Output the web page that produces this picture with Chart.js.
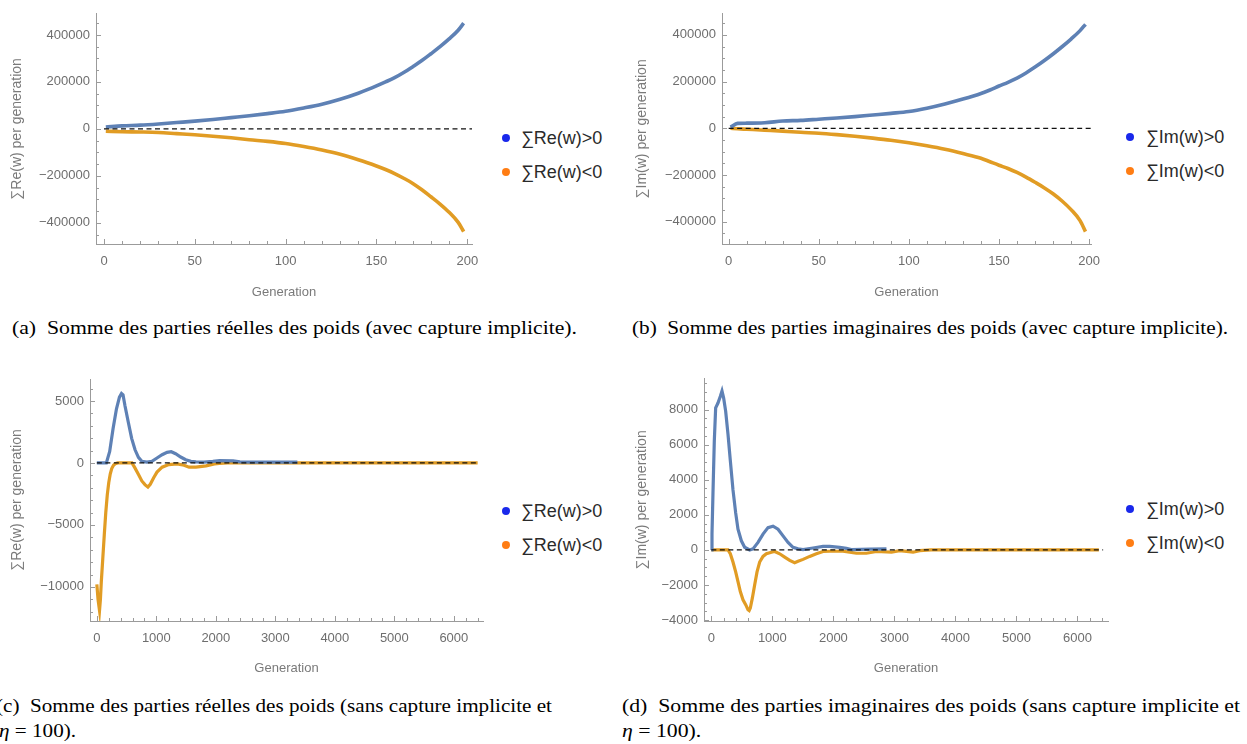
<!DOCTYPE html>
<html>
<head>
<meta charset="utf-8">
<script src="https://cdn.jsdelivr.net/npm/chart.js@4.4.0/dist/chart.umd.min.js"></script>
<style>
  html, body { margin: 0; padding: 0; background: #fff; }
  body { width: 1247px; height: 744px; position: relative; overflow: hidden; }
  .box { position: absolute; }
  .leg { position: absolute; font: 18px "Liberation Sans", Arial, sans-serif; color: #2a2a2a; white-space: nowrap; line-height: 20px; }
  .dot { position: absolute; width: 8px; height: 8px; border-radius: 50%; }
  .cap { position: absolute; font-family: "Liberation Serif", "Times New Roman", serif; font-size: 19px; line-height: 20px; color: #000; white-space: nowrap; transform-origin: 0 50%; }
</style>
</head>
<body>
<script>
// ---------------- DATA ----------------
// (a) real parts, with implicit capture
const genA     = [1, 10, 20, 30, 40, 50, 60, 70, 80, 90, 100, 110, 120, 130, 140, 145, 150, 155, 160, 165, 170, 175, 180, 185, 190, 195, 198];
const reAPos   = [8000, 13000, 16000, 21000, 27000, 33000, 40000, 48000, 56000, 65000, 75000, 89000, 105000, 126000, 152000, 167000, 183000, 200000, 218000, 240000, 265000, 291000, 320000, 350000, 383000, 420000, 450000];
const reANeg   = [-10000, -12000, -13000, -15000, -20000, -25000, -31000, -38000, -46000, -53000, -62000, -75000, -90000, -108000, -131000, -144000, -158000, -173000, -190000, -210000, -232000, -259000, -289000, -320000, -355000, -398000, -437000];
// (b) imaginary parts, with implicit capture
const genB     = [1, 5, 10, 20, 30, 40, 50, 60, 70, 80, 90, 100, 110, 120, 130, 140, 145, 150, 155, 160, 165, 170, 175, 180, 185, 190, 195, 198];
const imBPos   = [5000, 21000, 22000, 24000, 31000, 34000, 39000, 44000, 50000, 57000, 64000, 72000, 86000, 104000, 125000, 149000, 164000, 181000, 197000, 215000, 237000, 262000, 289000, 318000, 349000, 382000, 418000, 445000];
const imBNeg   = [0, -2000, -4000, -8000, -12000, -17000, -21000, -27000, -34000, -42000, -51000, -62000, -75000, -90000, -108000, -128000, -143000, -158000, -172000, -189000, -209000, -231000, -254000, -280000, -311000, -348000, -395000, -442000];
// (c) real parts, without implicit capture, eta = 100
const genCPos  = [0, 100, 160, 216, 273, 330, 380, 415, 440, 472, 528, 585, 642, 699, 756, 841, 926, 1011, 1097, 1180, 1250, 1324, 1409, 1494, 1580, 1665, 1800, 1950, 2063, 2290, 2403, 2600, 3000, 3370];
const reCPos   = [0, 0, 0, 926, 2780, 4365, 5300, 5600, 5500, 4630, 3300, 1984, 1058, 450, 132, 60, 130, 400, 660, 850, 900, 740, 476, 265, 130, 80, 60, 120, 185, 160, 80, 60, 60, 60];
const genCNeg  = [0, 20, 45, 60, 75, 100, 125, 150, 175, 200, 225, 250, 280, 310, 350, 590, 640, 700, 756, 812, 858, 898, 955, 1011, 1097, 1210, 1350, 1466, 1550, 1665, 1835, 1977, 2060, 2200, 6400];
const reCNeg   = [-9800, -11000, -11900, -11000, -9600, -7700, -5800, -4000, -2600, -1600, -900, -450, -180, -60, 0, 0, -400, -930, -1450, -1770, -1950, -1720, -1190, -740, -345, -130, -80, -190, -340, -340, -240, -80, -30, 0, 0];
// (d) imaginary parts, without implicit capture, eta = 100
const genDPos  = [0, 11, 27, 49, 71, 109, 148, 175, 202, 235, 273, 311, 355, 399, 437, 492, 546, 628, 683, 765, 847, 929, 1011, 1093, 1175, 1257, 1339, 1421, 1503, 1667, 1831, 1940, 2104, 2213, 2295, 2600, 2870];
const imDPos   = [0, 900, 3230, 6220, 8090, 8370, 8750, 9050, 8650, 7900, 6600, 5100, 3420, 2110, 1180, 520, 150, 0, 60, 430, 900, 1270, 1350, 1180, 800, 430, 150, 60, 20, 110, 200, 200, 150, 90, 20, 40, 60];
const genDNeg  = [0, 273, 311, 355, 399, 437, 475, 519, 563, 601, 620, 639, 672, 710, 749, 792, 847, 902, 984, 1038, 1120, 1202, 1284, 1366, 1421, 1503, 1612, 1721, 1831, 1940, 2158, 2268, 2377, 2541, 2705, 2951, 3087, 3306, 3415, 3600, 6350];
const imDNeg   = [0, 0, -220, -690, -1250, -1810, -2370, -2840, -3120, -3400, -3450, -3310, -2750, -2000, -1250, -690, -370, -220, -130, -90, -220, -410, -600, -730, -650, -540, -370, -220, -90, -75, -75, -130, -190, -190, -90, -130, -40, -130, -40, 0, 0];

// zero reference (dashed) line extents
const zeroA = [0, 202.6];
const zeroB = [0, 201];
const zeroC = [0, 6420];
const zeroD = [0, 6420];

// tick labels / tick positions
const xTicksAB   = [0, 50, 100, 150, 200];
const xMinorAB   = [10, 20, 30, 40, 60, 70, 80, 90, 110, 120, 130, 140, 160, 170, 180, 190];
const yTicksAB   = [-400000, -200000, 0, 200000, 400000];
const yMinorAB   = [-450000, -350000, -300000, -250000, -150000, -100000, -50000, 50000, 100000, 150000, 250000, 300000, 350000, 450000];
const xTicksCD   = [0, 1000, 2000, 3000, 4000, 5000, 6000];
const xMinorCD   = [200, 400, 600, 800, 1200, 1400, 1600, 1800, 2200, 2400, 2600, 2800, 3200, 3400, 3600, 3800, 4200, 4400, 4600, 4800, 5200, 5400, 5600, 5800, 6200, 6400];
const yTicksC    = [-10000, -5000, 0, 5000];
const yMinorC    = [-12000, -11000, -9000, -8000, -7000, -6000, -4000, -3000, -2000, -1000, 1000, 2000, 3000, 4000, 6000];
const yTicksD    = [-4000, -2000, 0, 2000, 4000, 6000, 8000];
const yMinorD    = [-3500, -3000, -2500, -1500, -1000, -500, 500, 1000, 1500, 2500, 3000, 3500, 4500, 5000, 5500, 6500, 7000, 7500, 8500, 9000, 9500];

const legendRe = ['\u2211Re(w)>0', '\u2211Re(w)<0'];
const legendIm = ['\u2211Im(w)>0', '\u2211Im(w)<0'];
const titleRe  = '\u2211Re(w) per generation';
const titleIm  = '\u2211Im(w) per generation';
const xTitle   = 'Generation';

// ---------------- STYLE ----------------
const BLUE = 'rgb(94,129,181)';
const ORANGE = 'rgb(225,156,36)';
const LEG_BLUE = 'rgb(25,40,235)';
const LEG_ORANGE = 'rgb(255,125,20)';
const AXIS = '#9b9b9b';
const TICK_TXT = '#6e6e6e';
const TITLE_TXT = '#7a7a7a';
const FF = '"Liberation Sans", Arial, sans-serif';

const pts = (xs, ys) => xs.map((x, i) => ({ x: x, y: ys[i] }));
const fmt = v => (v < 0 ? '\u2212' + Math.abs(v) : String(v));

const inTicks = {
  id: 'inTicks',
  afterDatasetsDraw(chart, args, o) {
    const ctx = chart.ctx, xs = chart.scales.x, ys = chart.scales.y, ca = chart.chartArea;
    ctx.save();
    ctx.strokeStyle = AXIS; ctx.lineWidth = 1;
    ctx.beginPath();
    const xt = (vals, len) => vals.forEach(v => { const p = Math.round(xs.getPixelForValue(v)) + 0.5; ctx.moveTo(p, ca.bottom); ctx.lineTo(p, ca.bottom - len); });
    const yt = (vals, len) => vals.forEach(v => { const p = Math.round(ys.getPixelForValue(v)) + 0.5; ctx.moveTo(ca.left, p); ctx.lineTo(ca.left + len, p); });
    xt(o.xMajor, 5); xt(o.xMinor, 3); yt(o.yMajor, 5); yt(o.yMinor, 3);
    ctx.stroke();
    ctx.restore();
  }
};

function makePanel(p) {
  const box = document.createElement('div');
  box.className = 'box';
  box.style.left = p.box[0] + 'px'; box.style.top = p.box[1] + 'px';
  const cv = document.createElement('canvas');
  cv.width = p.box[2]; cv.height = p.box[3];
  cv.style.width = p.box[2] + 'px'; cv.style.height = p.box[3] + 'px';
  box.appendChild(cv);
  document.body.appendChild(box);

  const line = (data, color, w, smooth) => ({
    data, borderColor: color, backgroundColor: color, borderWidth: w,
    pointRadius: 0, fill: false, tension: 0,
    cubicInterpolationMode: smooth ? 'monotone' : 'default'
  });

  new Chart(cv, {
    type: 'line',
    data: {
      datasets: [
        { data: [{ x: p.zero[0], y: 0 }, { x: p.zero[1], y: 0 }], borderColor: '#111', borderWidth: 1.2, borderDash: [5, 3.5], pointRadius: 0, fill: false },
        line(pts(p.gPos, p.vPos), BLUE, p.lw, p.smooth),
        line(pts(p.gNeg, p.vNeg), ORANGE, p.lw, p.smooth)
      ]
    },
    options: {
      responsive: false, animation: false, events: [],
      layout: { padding: { left: 0, top: p.padTop, right: p.padRight, bottom: 0 } },
      plugins: {
        legend: { display: false }, tooltip: { enabled: false },
        inTicks: { xMajor: p.xTicks, xMinor: p.xMinor, yMajor: p.yTicks, yMinor: p.yMinor }
      },
      scales: {
        x: {
          type: 'linear', min: p.xr[0], max: p.xr[1],
          afterBuildTicks: s => { s.ticks = p.xTicks.map(v => ({ value: v })); },
          afterFit: s => { s.height = p.xH; },
          grid: { display: false, drawTicks: false },
          border: { display: true, color: AXIS, width: 1 },
          ticks: { padding: 10, color: TICK_TXT, font: { family: FF, size: 13 }, maxRotation: 0, autoSkip: false, callback: fmt },
          title: { display: true, text: xTitle, color: TITLE_TXT, font: { family: FF, size: 13 }, padding: { top: 0, bottom: p.xTitlePad } }
        },
        y: {
          type: 'linear', min: p.yr[0], max: p.yr[1],
          afterBuildTicks: s => { s.ticks = p.yTicks.map(v => ({ value: v })); },
          afterFit: s => { s.width = p.yW; },
          grid: { display: false, drawTicks: false },
          border: { display: true, color: AXIS, width: 1 },
          ticks: { padding: 6, color: TICK_TXT, font: { family: FF, size: 13 }, autoSkip: false, callback: fmt },
          title: { display: true, text: p.yTitle, color: TITLE_TXT, font: { family: FF, size: 14 }, padding: { top: p.yTitlePad, bottom: 0 } }
        }
      }
    },
    plugins: [inTicks]
  });

  // legend
  p.legend.forEach((t, i) => {
    const cy = p.leg[1] + i * p.leg[3];
    const d = document.createElement('div');
    d.className = 'dot';
    d.style.left = (p.leg[0] - 4) + 'px'; d.style.top = (cy - 4) + 'px';
    d.style.background = i === 0 ? LEG_BLUE : LEG_ORANGE;
    document.body.appendChild(d);
    const s = document.createElement('div');
    s.className = 'leg';
    s.textContent = t;
    s.style.left = p.leg[2] + 'px'; s.style.top = (cy - 10) + 'px';
    document.body.appendChild(s);
  });
}

makePanel({ box: [0, 0, 490, 305], padTop: 12, padRight: 18, yW: 96, xH: 61, xTitlePad: 5, yTitlePad: 9,
  xr: [-4.4, 202.6], yr: [-490000, 490000], zero: zeroA, gPos: genA, vPos: reAPos, gNeg: genA, vNeg: reANeg,
  xTicks: xTicksAB, xMinor: xMinorAB, yTicks: yTicksAB, yMinor: yMinorAB, yTitle: titleRe, lw: 3.6, smooth: true,
  legend: legendRe, leg: [506, 138, 521, 34] });

makePanel({ box: [620, 0, 490, 305], padTop: 10, padRight: 15, yW: 102, xH: 61, xTitlePad: 5, yTitlePad: 14,
  xr: [-3.7, 201.1], yr: [-495000, 490000], zero: zeroB, gPos: genB, vPos: imBPos, gNeg: genB, vNeg: imBNeg,
  xTicks: xTicksAB, xMinor: xMinorAB, yTicks: yTicksAB, yMinor: yMinorAB, yTitle: titleIm, lw: 3.6, smooth: true,
  legend: legendIm, leg: [1130, 137, 1146, 34] });

makePanel({ box: [0, 365, 490, 315], padTop: 14, padRight: 7, yW: 90, xH: 59, xTitlePad: 4, yTitlePad: 9,
  xr: [-115, 6490], yr: [-12750, 6770], zero: zeroC, gPos: genCPos, vPos: reCPos, gNeg: genCNeg, vNeg: reCNeg,
  xTicks: xTicksCD, xMinor: xMinorCD, yTicks: yTicksC, yMinor: yMinorC, yTitle: titleRe, lw: 3.2, smooth: false,
  legend: legendRe, leg: [506, 511, 521, 34] });

makePanel({ box: [620, 365, 500, 315], padTop: 8, padRight: 12, yW: 84, xH: 59, xTitlePad: 4, yTitlePad: 14,
  xr: [-120, 6500], yr: [-4050, 9750], zero: zeroD, gPos: genDPos, vPos: imDPos, gNeg: genDNeg, vNeg: imDNeg,
  xTicks: xTicksCD, xMinor: xMinorCD, yTicks: yTicksD, yMinor: yMinorD, yTitle: titleIm, lw: 3.2, smooth: false,
  legend: legendIm, leg: [1130, 509, 1146, 34] });

// ---------------- CAPTIONS ----------------
const captions = [
  { html: '(a)&nbsp; Somme des parties réelles des poids (avec capture implicite).', x: 12, cy: 328, w: 565 },
  { html: '(b)&nbsp; Somme des parties imaginaires des poids (avec capture implicite).', x: 632, cy: 328, w: 596 },
  { html: '(c)&nbsp; Somme des parties réelles des poids (sans capture implicite et', x: -4, cy: 706, w: 556 },
  { html: '<i>η</i> = 100).', x: -1, cy: 731, ref: 2 },
  { html: '(d)&nbsp; Somme des parties imaginaires des poids (sans capture implicite et', x: 622, cy: 706, w: 618 },
  { html: '<i>η</i> = 100).', x: 622, cy: 731, ref: 4 }
];
const scales = [];
captions.forEach((c, i) => {
  const d = document.createElement('div');
  d.className = 'cap';
  d.innerHTML = c.html;
  d.style.left = c.x + 'px';
  d.style.top = (c.cy - 10) + 'px';
  document.body.appendChild(d);
  const k = c.w ? c.w / d.getBoundingClientRect().width : scales[c.ref];
  scales[i] = k;
  d.style.transform = 'scaleX(' + k + ')';
});
</script>
</body>
</html>
